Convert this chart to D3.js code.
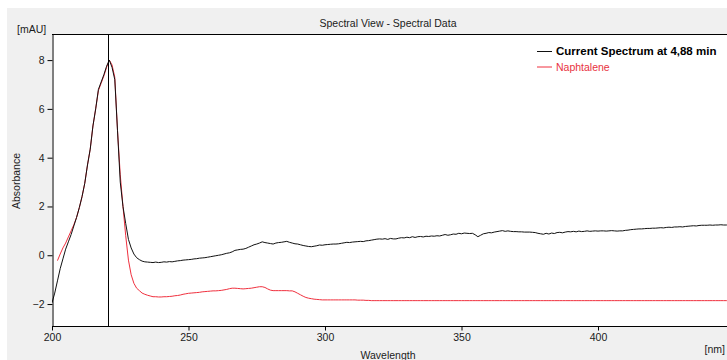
<!DOCTYPE html>
<html>
<head>
<meta charset="utf-8">
<script src="https://cdn.jsdelivr.net/npm/d3@7"></script>
<style>
  html, body { margin: 0; padding: 0; background: #ffffff; }
  svg { display: block; font-family: "Liberation Sans", Arial, sans-serif; }
</style>
</head>
<body>
<svg id="chart" width="727" height="360"></svg>
<script>
// ---------- DATA ----------
const titleText = "Spectral View - Spectral Data";
const seriesNames = ["Current Spectrum at 4,88 min", "Naphtalene"];
const xTicks = [200, 250, 300, 350, 400];
const yTicks = [-2, 0, 2, 4, 6, 8];
const cursorWavelength = 220.6;

// Current spectrum, 1 nm steps from 200 nm to 450 nm
const currentStart = 200;
const currentValues = [
  -1.95, -1.55, -1.05, -0.55, -0.15, 0.25, 0.55, 0.85, 1.2, 1.55,
  1.95, 2.4, 2.95, 3.7, 4.35, 5.3, 6.0, 6.8, 7.1, 7.4,
  7.75, 8.0, 7.7, 7.2, 5.1, 3.0, 2.0, 1.3, 0.65, 0.3,
  0.05, -0.1, -0.18, -0.24, -0.27, -0.28, -0.29, -0.3, -0.28, -0.3,
  -0.29, -0.27, -0.28, -0.26, -0.27, -0.25, -0.23, -0.22, -0.2, -0.19,
  -0.18, -0.17, -0.15, -0.14, -0.12, -0.11, -0.1, -0.08, -0.06, -0.04,
  -0.02, 0.0, 0.02, 0.05, 0.08, 0.1, 0.14, 0.2, 0.22, 0.24,
  0.25, 0.28, 0.33, 0.38, 0.43, 0.46, 0.5, 0.55, 0.52, 0.5,
  0.48, 0.46, 0.5, 0.52, 0.53, 0.55, 0.57, 0.53, 0.5, 0.47,
  0.46, 0.43, 0.4, 0.38, 0.36, 0.35, 0.37, 0.39, 0.42, 0.41,
  0.43, 0.44, 0.45, 0.46, 0.46, 0.47, 0.49, 0.51, 0.53, 0.52,
  0.54, 0.55, 0.56, 0.57, 0.56, 0.59, 0.6, 0.62, 0.64, 0.66,
  0.67, 0.66, 0.68, 0.65, 0.69, 0.67, 0.67, 0.7, 0.72, 0.71,
  0.74, 0.72, 0.76, 0.73, 0.76, 0.77, 0.75, 0.78, 0.77, 0.79,
  0.78, 0.8, 0.79, 0.82, 0.85, 0.82, 0.84, 0.87, 0.86, 0.9,
  0.88, 0.91, 0.9, 0.89, 0.9, 0.84, 0.76, 0.82, 0.88, 0.9,
  0.93, 0.92, 0.95, 0.97, 0.99, 1.01, 0.98, 1.0, 0.98, 0.97,
  0.97, 0.96, 0.96, 0.95, 0.95, 0.95, 0.94, 0.93, 0.9, 0.88,
  0.86, 0.9, 0.87, 0.91, 0.89, 0.93, 0.94, 0.92, 0.95, 0.97,
  0.96, 0.98, 0.96, 0.99, 0.97, 0.98, 1.0, 0.98, 0.99, 1.0,
  0.99, 1.0, 1.0, 0.99, 1.0, 1.01, 1.0, 0.99, 1.0, 1.0,
  1.02, 1.03, 1.05, 1.06, 1.07, 1.08, 1.08, 1.09, 1.1, 1.1,
  1.11, 1.11, 1.12, 1.13, 1.12, 1.14, 1.15, 1.14, 1.16, 1.16,
  1.17, 1.16, 1.18, 1.19, 1.2, 1.21, 1.2, 1.22, 1.23, 1.23,
  1.23, 1.24, 1.23, 1.24, 1.24, 1.25, 1.24, 1.24, 1.25, 1.25, 1.25
];

// Naphtalene reference, 1 nm steps from 202 nm to 450 nm
const naphStart = 202;
const naphValues = [
  -0.22, 0.05, 0.3, 0.5, 0.75, 1.0, 1.25, 1.55,
  1.95, 2.4, 2.95, 3.7, 4.35, 5.3, 6.0, 6.75, 7.05, 7.35,
  7.7, 8.0, 7.8, 7.3, 5.1, 3.3, 2.0, 0.8, -0.2, -0.8,
  -1.15, -1.35, -1.45, -1.55, -1.6, -1.64, -1.67, -1.7, -1.7, -1.71,
  -1.71, -1.7, -1.7, -1.69, -1.68, -1.66, -1.65, -1.63, -1.6, -1.58,
  -1.56, -1.55, -1.54, -1.53, -1.52, -1.5, -1.49, -1.48, -1.47, -1.46,
  -1.46, -1.45, -1.44, -1.42, -1.4, -1.37, -1.35, -1.35, -1.36, -1.37,
  -1.38, -1.37, -1.36, -1.35, -1.33, -1.31, -1.29, -1.29, -1.32, -1.38,
  -1.43, -1.45, -1.45, -1.45, -1.45, -1.45, -1.45, -1.46, -1.46, -1.5,
  -1.56, -1.62, -1.68, -1.73, -1.76, -1.78, -1.8, -1.81, -1.82, -1.83,
  -1.83, -1.83, -1.83, -1.83, -1.83, -1.83, -1.83, -1.83, -1.83, -1.83,
  -1.83, -1.83, -1.84, -1.84, -1.84, -1.85, -1.85, -1.86, -1.86, -1.86,
  -1.86, -1.86, -1.86, -1.86, -1.86, -1.86, -1.86, -1.86, -1.86, -1.86,
  -1.86, -1.86, -1.86, -1.86, -1.86, -1.86, -1.86, -1.86, -1.86, -1.86,
  -1.86, -1.86, -1.86, -1.86, -1.86, -1.86, -1.86, -1.86, -1.86, -1.86,
  -1.86, -1.86, -1.86, -1.86, -1.86, -1.86, -1.86, -1.86, -1.86, -1.86,
  -1.86, -1.86, -1.86, -1.86, -1.86, -1.86, -1.86, -1.86, -1.86, -1.86,
  -1.86, -1.86, -1.86, -1.86, -1.86, -1.86, -1.86, -1.86, -1.86, -1.86,
  -1.86, -1.86, -1.86, -1.86, -1.86, -1.86, -1.86, -1.86, -1.86, -1.86,
  -1.86, -1.86, -1.86, -1.86, -1.86, -1.86, -1.86, -1.86, -1.86, -1.86,
  -1.86, -1.86, -1.86, -1.86, -1.86, -1.86, -1.86, -1.86, -1.86, -1.86,
  -1.86, -1.86, -1.86, -1.86, -1.86, -1.86, -1.86, -1.86, -1.86, -1.86,
  -1.86, -1.86, -1.86, -1.86, -1.86, -1.86, -1.86, -1.86, -1.86, -1.86,
  -1.86, -1.86, -1.86, -1.86, -1.86, -1.86, -1.86, -1.86, -1.86, -1.86,
  -1.86, -1.86, -1.86, -1.86, -1.86, -1.86, -1.86, -1.86, -1.86, -1.86, -1.86
];

// ---------- LAYOUT ----------
const W = 727, H = 360;
const plot = { left: 52, top: 34, right: 734.5, bottom: 326 };
const textColor = "#1b1b1b";
const colors = ["#111111", "#f0303e"];

const svg = d3.select("#chart");

svg.append("rect").attr("x", 7).attr("y", 8).attr("width", W - 7).attr("height", H - 8)
  .attr("fill", "#f0f0f0");
svg.append("rect").attr("x", plot.left).attr("y", plot.top)
  .attr("width", plot.right - plot.left).attr("height", plot.bottom - plot.top)
  .attr("fill", "#ffffff");

const x = d3.scaleLinear().domain([200, 450]).range([plot.left, plot.right]);
const y = d3.scaleLinear().domain([-2.9, 9.07]).range([plot.bottom, plot.top]);

svg.append("clipPath").attr("id", "clip").append("rect")
  .attr("x", plot.left).attr("y", plot.top)
  .attr("width", plot.right - plot.left).attr("height", plot.bottom - plot.top);

const currentData = currentValues.map((v, i) => ({ w: currentStart + i, v }));
const naphData = naphValues.map((v, i) => ({ w: naphStart + i, v }));

const line = d3.line().x(d => x(d.w)).y(d => y(d.v));

const g = svg.append("g").attr("clip-path", "url(#clip)");
g.append("path").datum(naphData).attr("d", line)
  .attr("fill", "none").attr("stroke", colors[1]).attr("stroke-width", 1);
g.append("path").datum(currentData).attr("d", line)
  .attr("fill", "none").attr("stroke", colors[0]).attr("stroke-width", 1);

// cursor line
svg.append("line")
  .attr("x1", Math.round(x(cursorWavelength)) + 0.5).attr("x2", Math.round(x(cursorWavelength)) + 0.5)
  .attr("y1", plot.top).attr("y2", plot.bottom)
  .attr("stroke", "#000").attr("stroke-width", 1);

// top border
svg.append("line").attr("x1", plot.left).attr("x2", W).attr("y1", plot.top + 0.5).attr("y2", plot.top + 0.5)
  .attr("stroke", "#000").attr("stroke-width", 1);

// axes
const yAxis = d3.axisLeft(y).tickValues(yTicks).tickFormat(d3.format("d")).tickSize(5).tickSizeOuter(0).tickPadding(3);
const yg = svg.append("g").attr("transform", `translate(${plot.left + 0.5},0)`).call(yAxis);
const xAxis = d3.axisBottom(x).tickValues(xTicks).tickFormat(d3.format("d")).tickSize(4).tickSizeOuter(0).tickPadding(3);
const xg = svg.append("g").attr("transform", `translate(0,${plot.bottom + 0.5})`).call(xAxis);

[yg, xg].forEach(a => {
  a.select(".domain").attr("stroke", "#000");
  a.selectAll(".tick line").attr("stroke", "#000");
  a.selectAll(".tick text").attr("fill", textColor).style("font-size", "10.5px")
    .style("font-family", '"Liberation Sans", Arial, sans-serif');
});
xg.select(".domain").attr("d", `M${plot.left},0H${W}`);

// title and labels
svg.append("text").attr("x", 388).attr("y", 27).attr("text-anchor", "middle")
  .attr("fill", textColor).style("font-size", "10.5px").text(titleText);
svg.append("text").attr("x", 17).attr("y", 33)
  .attr("fill", textColor).style("font-size", "10.5px").text("[mAU]");
svg.append("text").attr("transform", "translate(20,181) rotate(-90)").attr("text-anchor", "middle")
  .attr("fill", textColor).style("font-size", "10.5px").text("Absorbance");
svg.append("text").attr("x", 388).attr("y", 359).attr("text-anchor", "middle")
  .attr("fill", textColor).style("font-size", "10.5px").text("Wavelength");
svg.append("text").attr("x", 725).attr("y", 353).attr("text-anchor", "end")
  .attr("fill", textColor).style("font-size", "10.5px").text("[nm]");

// legend
const legend = svg.append("g");
seriesNames.forEach((name, i) => {
  const ly = 51 + i * 15.5;
  legend.append("line").attr("x1", 537).attr("x2", 552).attr("y1", ly + 0.5).attr("y2", ly + 0.5)
    .attr("stroke", colors[i]).attr("stroke-width", 1);
  legend.append("text").attr("x", 556).attr("y", ly + 4)
    .attr("fill", i === 0 ? "#000" : "#e8323e")
    .style("font-size", i === 0 ? "11.5px" : "10.5px")
    .style("font-weight", i === 0 ? "bold" : "normal")
    .text(name);
});
</script>
</body>
</html>
